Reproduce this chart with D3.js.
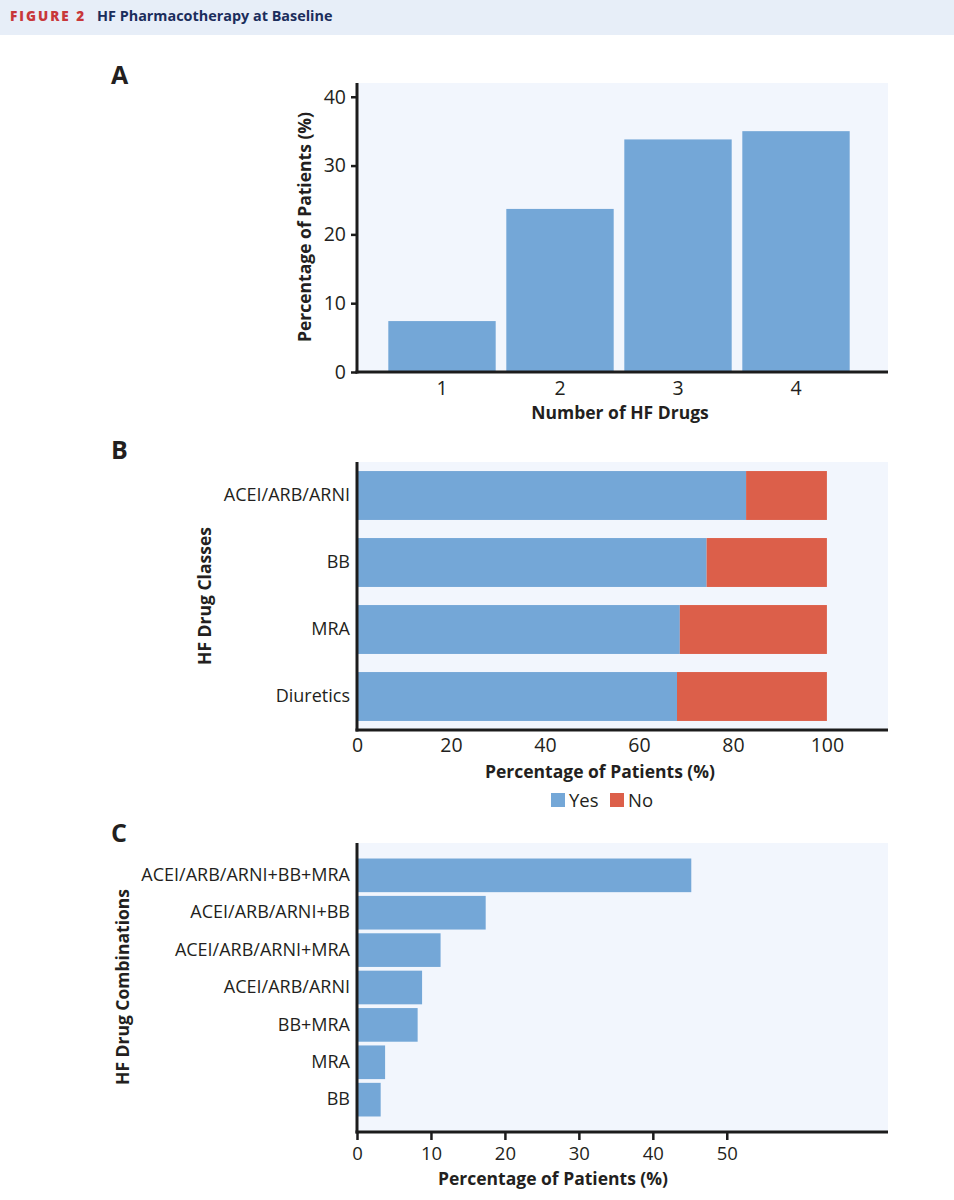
<!DOCTYPE html>
<html><head><meta charset="utf-8">
<script src="https://cdn.jsdelivr.net/npm/d3@7"></script>
<style>
body{margin:0;background:#fff}
svg{display:block}
text{font-family:"Open Sans",sans-serif;fill:#231f20}
</style>
</head><body>
<svg id="chart" width="954" height="1200"></svg>
<script>
// ---- Data ----
const drugCounts = ["1", "2", "3", "4"];
const drugCountPct = [7.4, 23.7, 33.8, 35.0];
const yTicksA = [0, 10, 20, 30, 40];

const drugClasses = ["ACEI/ARB/ARNI", "BB", "MRA", "Diuretics"];
const classYesPct = [82.8, 74.4, 68.7, 68.1];
const classNoPct = [17.2, 25.6, 31.3, 31.9];
const xTicksB = [0, 20, 40, 60, 80, 100];
const legendLabels = ["Yes", "No"];

const drugCombos = ["ACEI/ARB/ARNI+BB+MRA", "ACEI/ARB/ARNI+BB", "ACEI/ARB/ARNI+MRA", "ACEI/ARB/ARNI", "BB+MRA", "MRA", "BB"];
const comboPct = [45.2, 17.4, 11.3, 8.8, 8.2, 3.8, 3.2];
const xTicksC = [0, 10, 20, 30, 40, 50];

// ---- Styles ----
const BLUE = "#74a7d7", RED = "#dc5f4a", PLOTBG = "#f2f6fd", AXIS = "#1c1c1c";
const NUMFONT = 19.5, CATFONT = 18, TITLEFONT = 17.5;

const svg = d3.select("#chart");

// Header
svg.append("rect").attr("x", 0).attr("y", 0).attr("width", 954).attr("height", 35).attr("fill", "#e7eef8");
svg.append("text").attr("x", 10).attr("y", 21).attr("font-size", 13.5).attr("font-weight", 800)
  .attr("letter-spacing", 2).style("fill", "#c8373a").text("FIGURE 2");
svg.append("text").attr("x", 97).attr("y", 21).attr("font-size", 14.4).attr("font-weight", 700)
  .style("fill", "#1b2d5c").text("HF Pharmacotherapy at Baseline");

function panelLetter(t, y) {
  svg.append("text").attr("x", 111).attr("y", y).attr("font-size", 25).attr("font-weight", 700).text(t);
}
function plotBox(x0, x1, y0, y1) {
  svg.append("rect").attr("x", x0).attr("y", y0).attr("width", x1 - x0).attr("height", y1 - y0).attr("fill", PLOTBG);
}
function axisLines(x0, x1, y0, y1) {
  svg.append("line").attr("x1", x0).attr("x2", x0).attr("y1", y0).attr("y2", y1 + 1.5)
    .attr("stroke", AXIS).attr("stroke-width", 3);
  svg.append("line").attr("x1", x0 - 1.5).attr("x2", x1).attr("y1", y1).attr("y2", y1)
    .attr("stroke", AXIS).attr("stroke-width", 3);
}
function styleAxis(g, size) {
  g.select(".domain").remove();
  g.selectAll(".tick line").attr("stroke", AXIS).attr("stroke-width", 2.5);
  g.selectAll(".tick text").attr("font-size", size).attr("font-family", "Open Sans").style("fill", "#231f20");
}
function title(x, y, t, rotate) {
  const el = svg.append("text").attr("font-size", TITLEFONT).attr("font-weight", 700).attr("text-anchor", "middle").text(t);
  if (rotate) el.attr("transform", `translate(${x},${y}) rotate(-90)`);
  else el.attr("x", x).attr("y", y);
}

// ---- Panel A ----
{
  const X0 = 357, X1 = 888, Y0 = 83, Y1 = 372;
  panelLetter("A", 84);
  plotBox(X0, X1, Y0, Y1);
  const x = d3.scaleBand().domain(drugCounts).range([383, 855]).paddingInner(0.09).paddingOuter(0.045);
  const y = d3.scaleLinear().domain([0, 42]).range([Y1, Y0]);
  svg.append("g").selectAll("rect").data(drugCounts).join("rect")
    .attr("x", d => x(d)).attr("width", x.bandwidth())
    .attr("y", (d, i) => y(drugCountPct[i])).attr("height", (d, i) => Y1 - y(drugCountPct[i]))
    .attr("fill", BLUE);
  const gy = svg.append("g").attr("transform", `translate(${X0},0)`)
    .call(d3.axisLeft(y).tickValues(yTicksA).tickSize(6).tickPadding(5));
  styleAxis(gy, NUMFONT);
  const gx = svg.append("g").attr("transform", `translate(0,${Y1})`)
    .call(d3.axisBottom(x).tickSize(0).tickPadding(9));
  styleAxis(gx, NUMFONT);
  axisLines(X0, X1, Y0, Y1);
  title(620, 419, "Number of HF Drugs");
  title(311, 227, "Percentage of Patients (%)", true);
}

// ---- Panel B ----
{
  const X0 = 357, X1 = 888, Y0 = 462, Y1 = 730;
  panelLetter("B", 459);
  plotBox(X0, X1, Y0, Y1);
  const x = d3.scaleLinear().domain([0, 113]).range([X0, X1]);
  const y = d3.scaleBand().domain(drugClasses).range([Y0, Y1]).paddingInner(0.27).paddingOuter(0.135);
  const rows = drugClasses.map((c, i) => ({ c, yes: classYesPct[i], no: classNoPct[i] }));
  const stack = d3.stack().keys(["yes", "no"])(rows);
  const colors = { yes: BLUE, no: RED };
  svg.append("g").selectAll("g").data(stack).join("g").attr("fill", s => colors[s.key])
    .selectAll("rect").data(s => s).join("rect")
    .attr("x", d => x(d[0])).attr("width", d => x(d[1]) - x(d[0]))
    .attr("y", d => y(d.data.c)).attr("height", y.bandwidth());
  const gy = svg.append("g").attr("transform", `translate(${X0},0)`)
    .call(d3.axisLeft(y).tickSize(0).tickPadding(7));
  styleAxis(gy, CATFONT);
  const gx = svg.append("g").attr("transform", `translate(0,${Y1})`)
    .call(d3.axisBottom(x).tickValues(xTicksB).tickSize(0).tickPadding(8));
  styleAxis(gx, NUMFONT);
  axisLines(X0, X1, Y0, Y1);
  title(600, 778, "Percentage of Patients (%)");
  title(211, 596, "HF Drug Classes", true);
  // legend
  const lg = svg.append("g");
  const legendX = [551, 610];
  legendLabels.forEach((l, i) => {
    lg.append("rect").attr("x", legendX[i]).attr("y", 793).attr("width", 14).attr("height", 14).attr("fill", i === 0 ? BLUE : RED);
    lg.append("text").attr("x", legendX[i] + 18).attr("y", 806.5).attr("font-size", 18.5).text(l);
  });
}

// ---- Panel C ----
{
  const X0 = 357, X1 = 888, Y0 = 843, Y1 = 1132;
  panelLetter("C", 842);
  plotBox(X0, X1, Y0, Y1);
  const x = d3.scaleLinear().domain([0, 71.8]).range([X0, X1]);
  const y = d3.scaleBand().domain(drugCombos).range([Y0, Y1]).paddingInner(0.1).paddingOuter(0.415);
  svg.append("g").selectAll("rect").data(drugCombos).join("rect")
    .attr("x", X0).attr("width", (d, i) => x(comboPct[i]) - x(0))
    .attr("y", d => y(d)).attr("height", y.bandwidth())
    .attr("fill", BLUE);
  const gy = svg.append("g").attr("transform", `translate(${X0},0)`)
    .call(d3.axisLeft(y).tickSize(0).tickPadding(7));
  styleAxis(gy, CATFONT);
  const gx = svg.append("g").attr("transform", `translate(0,${Y1})`)
    .call(d3.axisBottom(x).tickValues(xTicksC).tickSize(8).tickPadding(7));
  styleAxis(gx, 18.5);
  axisLines(X0, X1, Y0, Y1);
  title(553, 1185, "Percentage of Patients (%)");
  title(129, 987, "HF Drug Combinations", true);
}
</script>
</body></html>
